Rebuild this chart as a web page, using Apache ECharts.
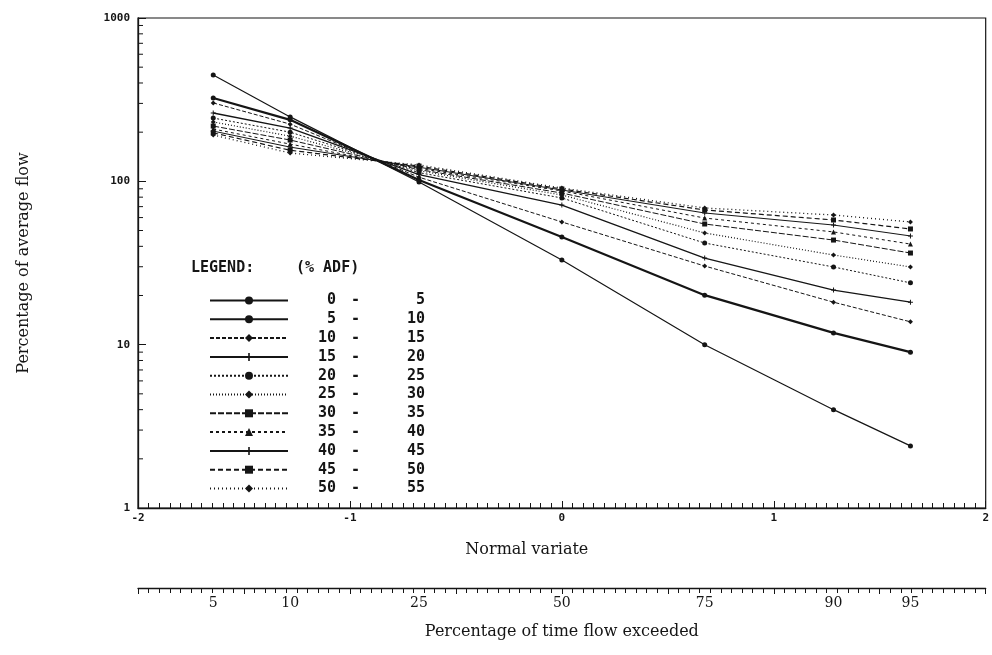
<!DOCTYPE html>
<html>
<head>
<meta charset="utf-8">
<script src="https://cdn.jsdelivr.net/npm/echarts@6/dist/echarts.min.js"></script>
<style>
  html, body { margin: 0; padding: 0; background: #fff; }
  #chart { width: 992px; height: 655px; }
</style>
</head>
<body>
<div id="chart"></div>
<script>
// exceedance percentages and the normal variate at which each one is plotted
var exceedPct = [5, 10, 25, 50, 75, 90, 95];
var normalVariate = [-1.645, -1.282, -0.674, 0, 0.674, 1.282, 1.645];

// ADF classes (legend)
var adfClasses = ['0 - 5', '5 - 10', '10 - 15', '15 - 20', '20 - 25', '25 - 30',
                  '30 - 35', '35 - 40', '40 - 45', '45 - 50', '50 - 55'];

// percentage of average flow, one array per class, read at the 7 exceedances
var flow0_5   = [448, 248, 99, 33.0, 10.0, 4.0, 2.4];
var flow5_10  = [324, 238, 102, 45.6, 20.1, 11.8, 9.0];
var flow10_15 = [302, 224, 106, 56.4, 30.3, 18.2, 13.8];
var flow15_20 = [262, 212, 110, 71.6, 33.9, 21.6, 18.2];
var flow20_25 = [244, 200, 113, 79.1, 41.9, 29.9, 23.9];
var flow25_30 = [231, 189, 116, 82.5, 48.3, 35.4, 29.9];
var flow30_35 = [218, 179, 118, 84.8, 54.8, 43.7, 36.4];
var flow35_40 = [209, 169, 120, 87.3, 59.6, 49.0, 41.3];
var flow40_45 = [203, 162, 122, 88.5, 64.0, 54.0, 46.3];
var flow45_50 = [198, 155, 124, 89.8, 66.8, 58.0, 51.1];
var flow50_55 = [192, 149, 126, 91.0, 68.7, 62.2, 56.4];

// log axis minor tick values
var yMinorTicks = [2, 3, 4, 5, 6, 7, 8, 9, 20, 30, 40, 50, 60, 70, 80, 90,
                   200, 300, 400, 500, 600, 700, 800, 900];

var allFlows = [flow0_5, flow5_10, flow10_15, flow15_20, flow20_25, flow25_30,
                flow30_35, flow35_40, flow40_45, flow45_50, flow50_55];

var plus = 'path://M4,0h2v4h4v2h-4v4h-2v-4h-4v-2h4z';
var lineTypes = ['solid', 'solid', [4, 2], 'solid', [2, 2], [1, 2],
                 [6, 2], [3, 3], 'solid', [5, 3], [1, 3]];
var lineWidths = [1.2, 2.2, 1, 1.3, 1, 1.2, 1, 1, 1, 1.2, 1.3];
var symbols = ['circle', 'circle', 'diamond', plus, 'circle', 'diamond',
               'rect', 'triangle', plus, 'rect', 'diamond'];

var ink = '#151515';
var monoFont = '"DejaVu Sans Mono", "Liberation Mono", monospace';
var serifFont = '"DejaVu Serif", "Liberation Serif", serif';

var chart = echarts.init(document.getElementById('chart'));

var series = allFlows.map(function (arr, k) {
    return {
        name: adfClasses[k],
        type: 'line',
        data: arr.map(function (v, i) { return [normalVariate[i], v]; }),
        symbol: symbols[k],
        symbolSize: 5,
        lineStyle: { color: ink, width: lineWidths[k], type: lineTypes[k] },
        itemStyle: { color: ink },
        z: 3
    };
});

// minor ticks of the log axis, placed with the axis scale
series.push({
    type: 'custom',
    silent: true,
    clip: false,
    data: yMinorTicks.map(function (v) { return [-2, v]; }),
    renderItem: function (params, api) {
        var p = api.coord([-2, api.value(1)]);
        return {
            type: 'line',
            shape: { x1: p[0], y1: p[1], x2: p[0] + 5, y2: p[1] },
            style: { stroke: ink, lineWidth: 1 }
        };
    }
});

var richBase = { fontFamily: monoFont, fontSize: 15, fontWeight: 'bold', color: ink, lineHeight: 14, align: 'right' };

var option = {
    backgroundColor: '#fff',
    animation: false,
    grid: {
        left: 138, right: 6, top: 18, bottom: 147,
        show: true, borderColor: ink, borderWidth: 1.2
    },
    legend: {
        data: adfClasses,
        orient: 'vertical',
        left: 204, top: 288,
        itemWidth: 78, itemHeight: 10, itemGap: 3.8,
        textStyle: {
            color: ink,
            rich: {
                a: Object.assign({ width: 43 }, richBase),
                b: Object.assign({ width: 24 }, richBase),
                c: Object.assign({ width: 65 }, richBase)
            }
        },
        formatter: function (name) {
            var parts = name.split(' - ');
            return '{a|' + parts[0] + '}{b|-}{c|' + parts[1] + '}';
        }
    },
    graphic: [
        { type: 'text', left: 191, top: 261, style: { text: 'LEGEND:', font: 'bold 15px ' + monoFont, fill: ink } },
        { type: 'text', left: 296, top: 261, style: { text: '(% ADF)', font: 'bold 15px ' + monoFont, fill: ink } }
    ],
    xAxis: [{
        type: 'value',
        min: -2, max: 2, interval: 1,
        name: 'Normal variate',
        nameLocation: 'middle',
        nameGap: 34,
        nameTextStyle: { fontFamily: serifFont, fontSize: 16, color: ink, padding: [0, 70, 0, 0] },
        axisLine: { onZero: false, lineStyle: { color: ink, width: 1.3 } },
        axisTick: { inside: true, length: 7, lineStyle: { color: ink } },
        minorTick: { show: true, splitNumber: 20, length: 5, lineStyle: { color: ink } },
        axisLabel: { fontFamily: monoFont, fontSize: 11, fontWeight: 'bold', color: ink, margin: 5 },
        splitLine: { show: false }
    }, {
        type: 'value',
        min: -2, max: 2, interval: 0.5,
        position: 'bottom',
        offset: 80,
        name: 'Percentage of time flow exceeded',
        nameLocation: 'middle',
        nameGap: 36,
        nameTextStyle: { fontFamily: serifFont, fontSize: 16, color: ink },
        axisLine: { show: true, onZero: false, lineStyle: { color: ink, width: 1.3 } },
        axisTick: { show: true, inside: false, length: 6, lineStyle: { color: ink } },
        minorTick: { show: true, splitNumber: 10, length: 5, lineStyle: { color: ink } },
        axisLabel: {
            customValues: normalVariate,
            fontFamily: serifFont, fontSize: 14, color: ink, margin: 8,
            formatter: function (v) {
                var i = normalVariate.indexOf(v);
                return i >= 0 ? String(exceedPct[i]) : '';
            }
        },
        splitLine: { show: false }
    }],
    yAxis: {
        type: 'log',
        logBase: 10,
        min: 1, max: 1000,
        name: 'Percentage of average flow',
        nameLocation: 'middle',
        nameGap: 106,
        nameTextStyle: { fontFamily: serifFont, fontSize: 16, color: ink },
        axisLine: { show: true, onZero: false, lineStyle: { color: ink, width: 1.3 } },
        axisTick: { inside: true, length: 8, lineStyle: { color: ink } },
        axisLabel: {
            fontFamily: monoFont, fontSize: 11, fontWeight: 'bold', color: ink, margin: 8,
            formatter: function (v) { return String(v); }
        },
        splitLine: { show: false }
    },
    series: series
};

chart.setOption(option);
</script>
</body>
</html>
